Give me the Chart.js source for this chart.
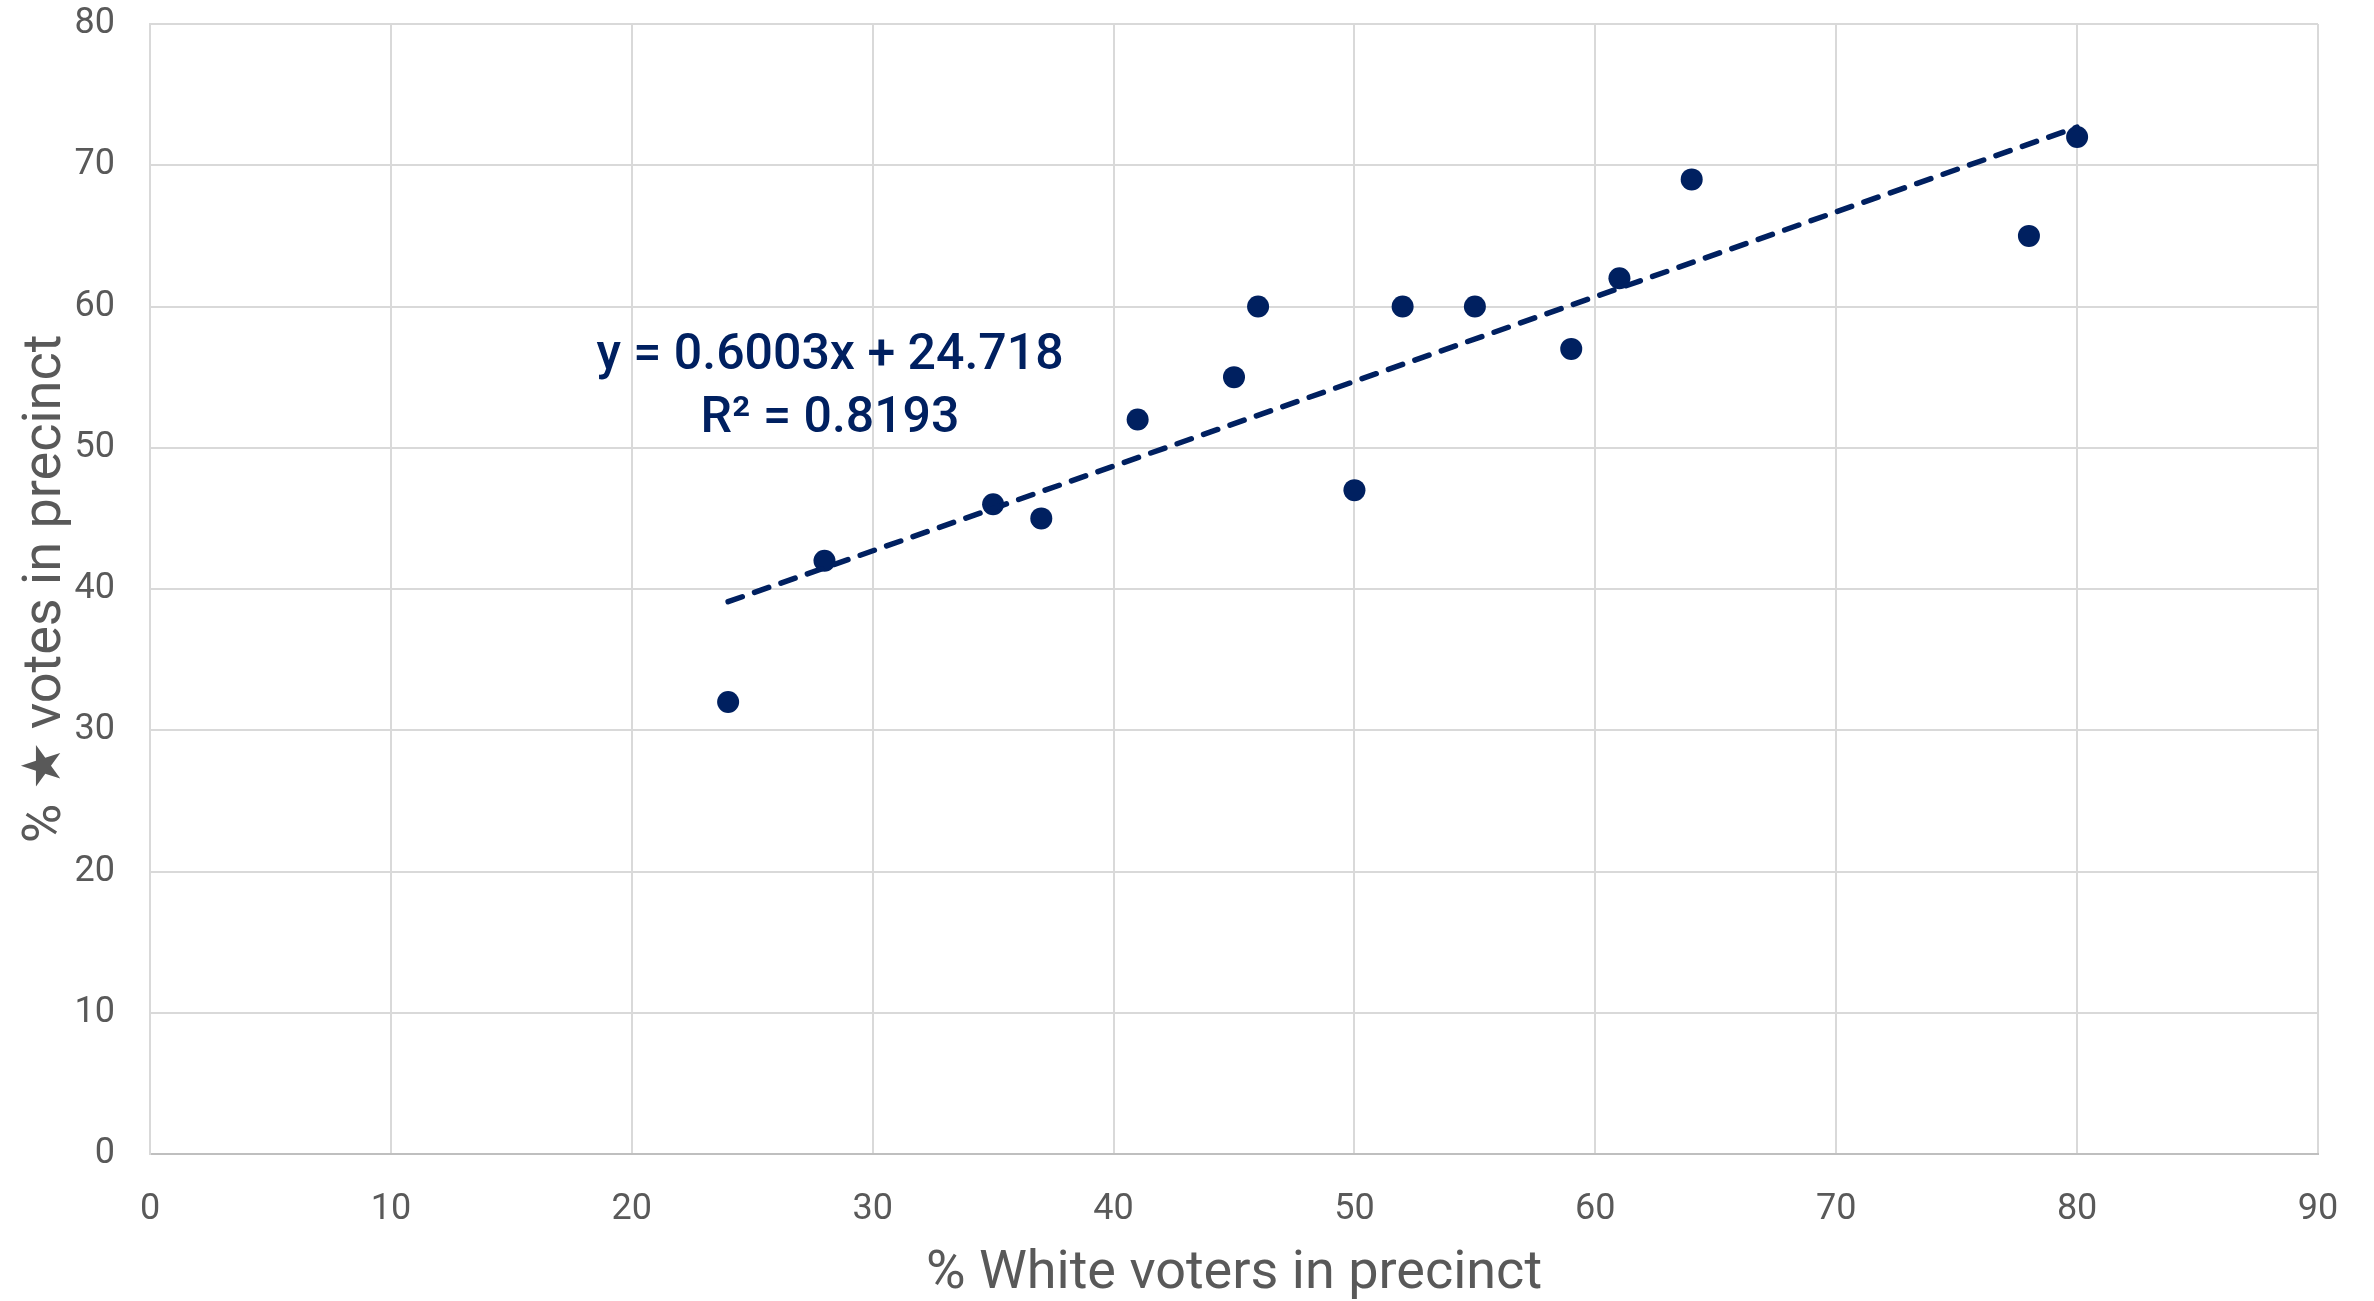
<!DOCTYPE html>
<html>
<head>
<meta charset="utf-8">
<script src="https://cdn.jsdelivr.net/npm/chart.js@4"></script>
<style>
  body { margin: 0; background: #fff; }
  #wrap { width: 2374px; height: 1301px; }
</style>
</head>
<body>
<div id="wrap"><canvas id="scatterChart"></canvas></div>
<script>
// % White voters in precinct vs % star votes
const whitePct = [24, 28, 35, 37, 41, 45, 46, 50, 52, 55, 59, 61, 64, 78, 80];
const starPct = [32, 42, 46, 45, 52, 55, 60, 47, 60, 60, 57, 62, 69, 65, 72];

// trendline end points as drawn
const trendX = [24, 80];
const trendY = [39.1, 72.7];

const equationLines = ['y = 0.6003x + 24.718', 'R\u00B2 = 0.8193'];

const navy = '#002060';
const grey = '#595959';

// draws the equation label of the trendline
const equationLabel = {
    id: 'equationLabel',
    afterDatasetsDraw(chart) {
        const ctx = chart.ctx;
        ctx.save();
        ctx.fillStyle = navy;
        ctx.font = '500 50px Roboto';
        ctx.textAlign = 'center';
        ctx.textBaseline = 'middle';
        ctx.fillText(equationLines[0], 830, 356);
        ctx.fillText(equationLines[1], 830, 419);
        ctx.restore();
    }
};

document.addEventListener('DOMContentLoaded', () => {
    const ctx = document.getElementById('scatterChart').getContext('2d');
    new Chart(ctx, {
        type: 'scatter',
        data: {
            datasets: [{
                label: 'Precincts',
                data: whitePct.map((x, i) => ({ x: x, y: starPct[i] })),
                backgroundColor: navy,
                borderWidth: 0,
                pointRadius: 11,
                pointHoverRadius: 11,
                order: 2
            }, {
                label: 'Trend',
                type: 'line',
                data: trendX.map((x, i) => ({ x: x, y: trendY[i] })),
                borderColor: navy,
                borderWidth: 5.5,
                borderDash: [15, 13],
                borderCapStyle: 'round',
                pointRadius: 0,
                fill: false,
                order: 1
            }]
        },
        options: {
            responsive: true,
            maintainAspectRatio: false,
            animation: false,
            layout: { padding: { top: 24, right: 56, left: 0, bottom: 0 } },
            plugins: {
                legend: { display: false },
                tooltip: { enabled: false }
            },
            scales: {
                x: {
                    type: 'linear',
                    min: 0,
                    max: 90,
                    afterFit: scale => {
                        scale.height = 147;
                        scale.paddingLeft = 0;
                        scale.paddingRight = 0;
                    },
                    ticks: {
                        stepSize: 10,
                        padding: 34,
                        color: grey,
                        font: { family: 'Roboto', size: 36 }
                    },
                    grid: { color: '#d9d9d9', lineWidth: 2, drawTicks: false },
                    border: { color: '#bfbfbf', width: 2 },
                    title: {
                        display: true,
                        text: '% White voters in precinct',
                        color: grey,
                        font: { family: 'Roboto', size: 54, lineHeight: 1 },
                        padding: { top: 0, bottom: 0 }
                    }
                },
                y: {
                    min: 0,
                    max: 80,
                    afterFit: scale => {
                        scale.width = 150;
                        scale.paddingTop = 0;
                        scale.paddingBottom = 0;
                    },
                    ticks: {
                        stepSize: 10,
                        padding: 35,
                        color: grey,
                        font: { family: 'Roboto', size: 36 }
                    },
                    grid: { color: '#d9d9d9', lineWidth: 2, drawTicks: false },
                    border: { color: '#d9d9d9', width: 2 },
                    title: {
                        display: true,
                        text: '% \u2605 votes in precinct',
                        color: grey,
                        font: { family: 'Roboto', size: 54, lineHeight: 1 },
                        padding: { top: 19, bottom: 0 }
                    }
                }
            }
        },
        plugins: [equationLabel]
    });
});
</script>
</body>
</html>
